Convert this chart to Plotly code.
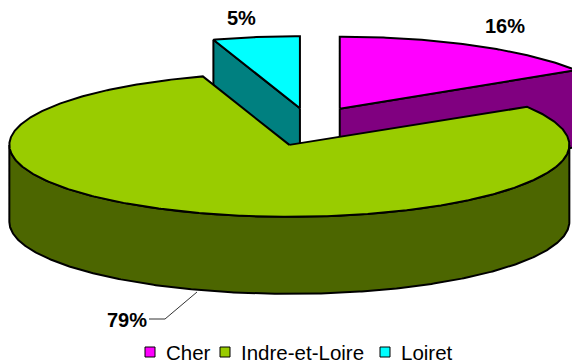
import numpy as np
import plotly.graph_objects as go

# Share of the total by département (%)
regions = ["Cher", "Indre-et-Loire", "Loiret"]
shares = [16, 79, 5]

top_colors = ["#FF00FF", "#99CC00", "#00FFFF"]
side_colors = ["#800080", "#4C6600", "#008080"]
explode = [0.22, 0.2, 0.2]

W, H = 572, 363
FONT = "Arial, 'Liberation Sans', sans-serif"

# 3-D pie geometry (pixel space, y grows downwards)
CX, CY = 309.0, 127.0      # centre of the un-exploded pie
RX, RY = 280.0, 72.0       # radii of the elliptical top face
DEPTH = 77.0               # thickness of the disc
PULL_X, PULL_Y = 290.0, 95.0


def rim(cx, cy, theta, z=0.0):
    t = np.radians(theta)
    return cx + RX * np.sin(t), cy - RY * np.cos(t) + z


def arc(cx, cy, a, b, z=0.0):
    n = max(2, int(abs(b - a) / 0.5) + 1)
    t = np.radians(np.linspace(a, b, n))
    return list(cx + RX * np.sin(t)), list(cy - RY * np.cos(t) + z)


total = float(sum(shares))
bounds = np.concatenate([[0.0], np.cumsum(shares) / total * 360.0])

slices = []
for i, name in enumerate(regions):
    a, b = bounds[i], bounds[i + 1]
    mid = np.radians((a + b) / 2)
    cx = CX + explode[i] * PULL_X * np.sin(mid)
    cy = CY - explode[i] * PULL_Y * np.cos(mid)
    slices.append(dict(i=i, a=a, b=b, cx=cx, cy=cy))

fig = go.Figure()


def add_poly(xs, ys, color, name):
    fig.add_trace(go.Scatter(
        x=xs + [xs[0]], y=ys + [ys[0]], mode="lines", fill="toself",
        fillcolor=color, line=dict(color="black", width=2),
        name=name, hoverinfo="skip", showlegend=False))


# paint the slices from the back to the front
for s in sorted(slices, key=lambda d: d["cy"]):
    i, a, b, cx, cy = s["i"], s["a"], s["b"], s["cx"], s["cy"]
    side, top = side_colors[i], top_colors[i]
    # cut faces that turn towards the viewer
    for ang, visible in ((a, np.sin(np.radians(a)) < -1e-6),
                         (b, np.sin(np.radians(b)) > 1e-6)):
        if visible:
            x1, y1 = rim(cx, cy, ang)
            x2, y2 = rim(cx, cy, ang, DEPTH)
            add_poly([cx, x1, x2, cx], [cy, y1, y2, cy + DEPTH], side, regions[i])
    # outer wall on the front half
    lo, hi = max(a, 90.0), min(b, 270.0)
    if lo < hi:
        tx, ty = arc(cx, cy, lo, hi)
        bx, by = arc(cx, cy, hi, lo, DEPTH)
        add_poly(tx + bx, ty + by, side, regions[i])
    # top face
    ax, ay = arc(cx, cy, a, b)
    add_poly([cx] + ax, [cy] + ay, top, regions[i])

# percentage labels
label_pos = [(505, 26), (127, 320), (241, 18)]
for name, v, (lx, ly) in zip(regions, shares, label_pos):
    fig.add_annotation(x=lx, y=ly, text=f"{v}%", showarrow=False,
                       xanchor="center", yanchor="middle",
                       font=dict(family=FONT, size=20, color="black", weight="bold"))

shapes = [dict(type="path", path="M 149 319 L 165 319 L 197 292",
               line=dict(color="#333333", width=1), xref="x", yref="y")]

# legend row
leg_sq_x = [145, 220, 380]
leg_y = 352
for name, col, sx in zip(regions, top_colors, leg_sq_x):
    shapes.append(dict(type="rect", x0=sx, x1=sx + 10, y0=leg_y - 5, y1=leg_y + 5,
                       fillcolor=col, line=dict(color="black", width=1),
                       xref="x", yref="y"))
    fig.add_annotation(x=sx + 19, y=leg_y, text=name, showarrow=False,
                       xanchor="left", yanchor="middle",
                       font=dict(family=FONT, size=20.5, color="black"))

fig.update_layout(
    width=W, height=H, margin=dict(l=0, r=0, t=0, b=0),
    paper_bgcolor="white", plot_bgcolor="white",
    xaxis=dict(range=[0, W], visible=False, fixedrange=True),
    yaxis=dict(range=[H, 0], visible=False, fixedrange=True),
    shapes=shapes, showlegend=False,
)

fig.write_html("out.html")
